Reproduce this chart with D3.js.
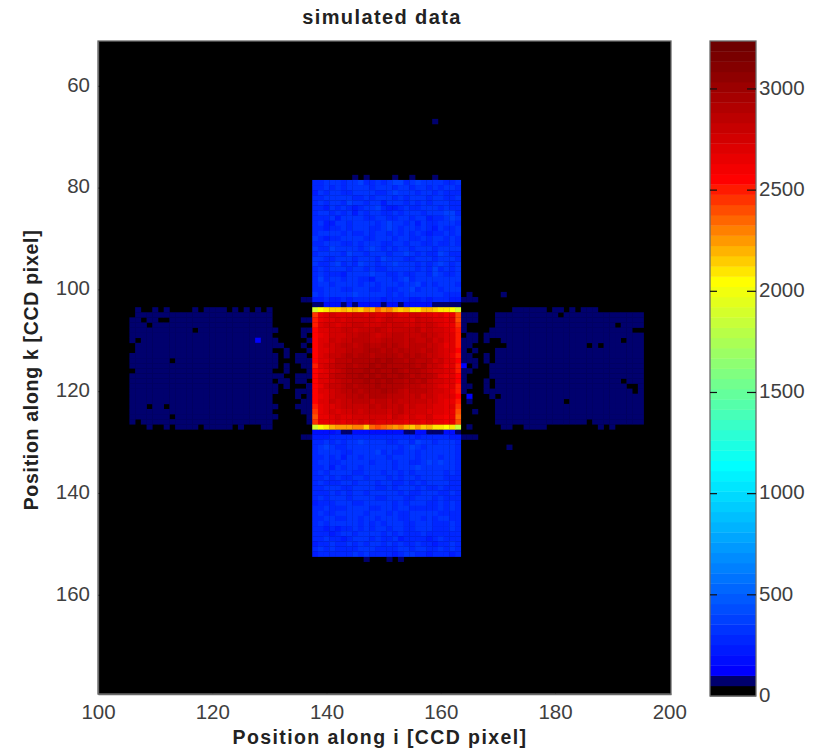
<!DOCTYPE html>
<html><head><meta charset="utf-8">
<script src="https://cdn.jsdelivr.net/npm/d3@7"></script>
<style>
html,body{margin:0;background:#fff}
text{font-family:"Liberation Sans",Arial,sans-serif}
</style></head><body><svg id="c" width="823" height="752"></svg>
<script>
// ---- text
const titleText = "simulated data";
const xLabel = "Position along i [CCD pixel]";
const yLabel = "Position along k [CCD pixel]";
const xTicks = [100,120,140,160,180,200];
const yTicks = [60,80,100,120,140,160];
const cTicks = [0,500,1000,1500,2000,2500,3000];
const colorMax = 3237;
const bandCount = 64;
// colormap stops: band index and colour
const stopBands = [0,1,2,22,31,40,50,63];
const stopColors = ["#000000","#00006e","#0000ff","#00ffff","#80ff80","#ffff00","#ff0000","#6e0000"];

// ---- data, one character per pixel: colour band index, '.' = no signal
const topFirstK = 79, topFirstI = 138;
const topBlockRows = [
"55666566755656775676666556",
"55656566665666566566565665",
"46566556666556766656656555",
"55666665565666565666566556",
"56566576656646665656566655",
"55465654566754456556665655",
"56656564656655656665666775",
"55564666655665566566455676",
"56446656666567665646556665",
"55455656665567656656546556",
"56666565565665656565455656",
"65455666655666566556566565",
"55666556566655665665565565",
"65576666567656566566656666",
"56666576656665667656557655",
"66556665666576665566656665",
"65567565766566766656567656",
"56566656656556666656575656",
"56555466667665565566576556",
"57566566554666567566666666",
"56656666566566656675656665",
"55666556665565566756665666",
"65666667666665656666666555",
"44544545555545555445455544",
"11333131333313313333311111"
];
const bottomFirstK = 128, bottomFirstI = 138;
const bottomBlockRows = [
"33334113333333331133111331",
"44455555555555555545555544",
"55656566766665566576656665",
"56765566666666656765666665",
"56666556666756556656666665",
"55656466566665666656665665",
"56655666665666566556767665",
"55646566566666566676666665",
"56566665566656656566666565",
"55656556656665656656666555",
"56555665666566556565666655",
"55666556666556566656556555",
"55565656656666656556665565",
"56566656666556665566656555",
"45556665566666565666556565",
"55655566665566566555556565",
"56556666656665655666665555",
"55665566566566655665656655",
"56566666565656665566655565",
"55454556565665665566655565",
"55545665666656565556555555",
"55655456665655645555456555",
"45565565656656565565545565",
"56565555666555566566556565",
"45555556565555456655455545"
];
// central bright rectangle, k 104..127, i 138..163
const centreFirstK = 104, centreFirstI = 138;
const centreTopEdge = [1900,2050,2100,2150,2130,2200,2150,2180,2130,2250,2200,2330,2250,2300,2200,2150,2180,2080,2100,2200,2180,2150,2100,2100,2050,1880];
const centreBottomEdge = [1900,2060,2120,2180,2250,2240,2230,2300,2280,2150,2350,2380,2340,2300,2260,2300,2220,2150,2230,2130,2180,2100,2120,2060,2080,1850];
const centreLeftEdge = [2430,2480,2500,2540,2560,2540,2560,2530,2560,2540,2520,2560,2530,2560,2540,2530,2560,2540,2500,2470,2400,2440];
const centreRightEdge = [2380,2420,2460,2500,2510,2480,2510,2530,2520,2540,2520,2510,2530,2540,2520,2500,2530,2500,2470,2380,2360,2400];
// inner pixels: counts = 2500 + 50 * digit
const centreInnerRows = [
"345444554544554455443423",
"344545555545655546554434",
"455455665556566556565433",
"445566566676566667565543",
"345556677656677666766544",
"446566777667777676675644",
"455677678778787677766534",
"445667778887878777676544",
"456678788788887878766543",
"445777888898988787775644",
"456778788989888887866534",
"345678889898898788765544",
"446778898989889878776434",
"445677889898988787865544",
"356678788898888777665434",
"445677878889887677765543",
"345667787888777667565444",
"446566777677676666655433",
"344566666767667565554434",
"345455656666567555544433",
"334544555555465454453323",
"333434454544444344343323"
];
// faint side blocks, k 104..127
const leftFirstK = 104, leftFirstI = 106;
const leftBlockRows = [
".1..1.1....1.1111.1.1.1.1",
".111111111111111111111111",
"11.11..111111111111111111",
"111.111111111111111111111",
"11111111111.11111111111111",
"1111111111111111111111111",
"1.11111111111111111111211 1".replace(" ",""),
".11111111111111111111111111",
".111111111111111111111111..1",
"11111111111111111111111111",
"1111111.111111111111111111",
"11111111111111111111111111.1",
".111111111111111111111111.",
"111111111111111111111111111",
"1111111111111111111111111..1",
"11111111111111111111111111.1",
"11111111111111111111111111",
"1111111111111111111111111",
"1111111111111111111111111",
"111.11.1111111111111111111",
"1111111111111111111111111",
"1111111.111111111111111111",
"1.11111111111111111111111",
"...1..1.1111.11111.1...11"
];
const rightFirstK = 104, rightFirstI = 168;
const rightBlockRows = [
".....111111.11.1.111",
"..11111111111.11111111111111",
"..11111111111111111111111111",
"..111111111111111111111.1111",
".1111111111111111111111111.",
"1111111111111111111111111111",
"1..111111111111111111111.111",
"....11111111111111.1.1111111",
"..11111111111111111111111111",
"1.11111111111111111111111111",
"1.11111111111111111111111111",
".111111111111111111111111111",
".111111111111111111111111111",
".111111111111111111111111111",
"1.1111111111111111111111.111",
"1.11111111111111111111111..1",
"11111111111111111111111111.1",
".1.1111111111111111111111111",
"..111111111111.1111111111111",
"..11111111111111111111111111",
"..11111111111111111111111111",
"..11111111111111111111111111",
"..1111111111111111.111111111",
"...11..1111.........1.1"
];
// isolated pixels: i, k, band
const strayI    = [159,145,147,152,155,159,147,151,153,171,172,165,165,
                   136,137,165,164,166,136,137,164,165,166,
                   136,137,136,137,135,136,133,135,136,137,136,137,133,137,135,136,137,132,133,135,136,137,133,137,135,136,137,135,137,136,137,136,137,135,136,137,137,137,
                   164,165,166,164,165,166,164,165,166,164,165,164,165,164,166,164,165,164,165,166,164,166,164,165,164,164,164,165,165,
                   136,137,165,166,164,136,137,164,165,166];
const strayK    = [67,78,78,78,78,78,153,153,153,101,131,101,127,
                   102,102,102,102,102,129,129,129,129,129,
                   106,106,108,108,113,113,113,114,114,114,115,115,116,116,117,117,117,118,118,118,118,119,119,119,120,120,120,121,121,122,122,123,123,123,124,124,125,126,
                   105,105,105,106,106,106,107,109,109,110,110,111,111,112,112,113,113,114,114,114,115,115,116,116,117,118,119,119,121,
                   109,110,109,110,108,111,112,120,122,124];
const strayBand = [1,1,1,1,1,1,1,1,1,1,1,1,1,
                   1,1,1,1,1,1,1,1,1,1,
                   1,1,1,1,1,1,1,1,1,1,1,1,1,1,1,1,1,1,1,1,1,2,1,1,1,1,1,1,1,1,1,1,1,1,1,1,1,1,
                   1,1,1,1,1,1,1,1,1,1,1,1,1,1,1,1,1,1,1,1,2,1,1,1,1,1,1,1,2,
                   1,1,1,1,1,1,1,1,1,1];

// ---- assemble pixels
const bandWidth = colorMax / bandCount;
const bandValue = b => (b + 0.5) * bandWidth;
const pixels = [];
function addRows(rows, firstI, firstK){
  rows.forEach((row, r) => [...row].forEach((ch, c) => {
    if (ch !== ".") pixels.push({i:firstI+c, k:firstK+r, v:bandValue(+ch)});
  }));
}
addRows(leftBlockRows, leftFirstI, leftFirstK);
addRows(rightBlockRows, rightFirstI, rightFirstK);
strayI.forEach((i, n) => pixels.push({i, k:strayK[n], v:bandValue(strayBand[n])}));
addRows(topBlockRows, topFirstI, topFirstK);
addRows(bottomBlockRows, bottomFirstI, bottomFirstK);
centreTopEdge.forEach((v, c) => pixels.push({i:centreFirstI+c, k:centreFirstK, v}));
centreBottomEdge.forEach((v, c) => pixels.push({i:centreFirstI+c, k:centreFirstK+23, v}));
centreLeftEdge.forEach((v, r) => pixels.push({i:centreFirstI, k:centreFirstK+1+r, v}));
centreRightEdge.forEach((v, r) => pixels.push({i:centreFirstI+25, k:centreFirstK+1+r, v}));
centreInnerRows.forEach((row, r) => [...row].forEach((ch, c) =>
  pixels.push({i:centreFirstI+1+c, k:centreFirstK+1+r, v:2500+50*(+ch)})));

// ---- scales
const plot = {l:98, r:671, t:41, b:694};
const x = d3.scaleLinear().domain([100,200.3]).range([plot.l, plot.r]);
const y = d3.scaleLinear().domain([51.2,179.5]).range([plot.t, plot.b]);
const cY = d3.scaleLinear().domain([0,colorMax]).range([696,41]);
const ramp = d3.scaleLinear().domain(stopBands).range(stopColors).interpolate(d3.interpolateRgb);
const bandColor = b => b === 0 ? stopColors[0] : b === 1 ? stopColors[1] : ramp(b);
const color = v => bandColor(Math.min(bandCount-1, Math.floor(v / bandWidth)));

const svg = d3.select("#c");
const axisCol = "#6a6a6a", textCol = "#3f3f3f";

// image
const img = svg.append("g");
img.append("rect").attr("x",plot.l).attr("y",plot.t).attr("width",plot.r-plot.l).attr("height",plot.b-plot.t).attr("fill","#000");
img.selectAll(".px").data(pixels).join("rect").attr("class","px")
  .attr("x", d=>x(d.i-0.5)).attr("y", d=>y(d.k-0.5))
  .attr("width", x(1)-x(0)+0.3).attr("height", y(1)-y(0)+0.3)
  .attr("fill", d=>color(d.v));

function styleAxis(g){
  g.selectAll("path").attr("stroke",axisCol).attr("stroke-width",1.3);
  g.selectAll("line").attr("stroke","#000");
  g.selectAll("text").attr("fill",textCol).attr("font-size",20.5).style("font-family",'"Liberation Sans",Arial,sans-serif');
}
styleAxis(svg.append("g").attr("transform",`translate(0,${plot.b})`)
  .call(d3.axisBottom(x).tickValues(xTicks).tickSize(-7).tickSizeOuter(0).tickPadding(10).tickFormat(d3.format("d"))));
const yAxisG = svg.append("g").attr("transform",`translate(${plot.l},0)`)
  .call(d3.axisLeft(y).tickValues(yTicks).tickSize(-7).tickSizeOuter(0).tickPadding(8).tickFormat(d3.format("d")));
styleAxis(yAxisG);
yAxisG.selectAll("text").attr("dy","0.26em");
svg.append("rect").attr("x",plot.l).attr("y",plot.t).attr("width",plot.r-plot.l).attr("height",plot.b-plot.t)
  .attr("fill","none").attr("stroke",axisCol).attr("stroke-width",1.3);

// colour bar
const cb = {l:710, r:756};
const bands = d3.range(bandCount);
svg.append("g").selectAll("rect").data(bands).join("rect")
  .attr("x",cb.l).attr("width",cb.r-cb.l)
  .attr("y",b=>cY((b+1)*bandWidth)).attr("height",bandWidth*(696-41)/colorMax+0.4)
  .attr("fill",bandColor);
svg.append("rect").attr("x",cb.l).attr("y",41).attr("width",cb.r-cb.l).attr("height",655)
  .attr("fill","none").attr("stroke",axisCol).attr("stroke-width",1.3);
const cAxis = svg.append("g").attr("transform",`translate(${cb.r},0)`)
  .call(d3.axisRight(cY).tickValues(cTicks).tickSize(0).tickPadding(3).tickFormat(d3.format("d")));
cAxis.select("path").remove();
styleAxis(cAxis);
cAxis.selectAll("text").attr("dy","0.26em");
const cT = svg.append("g").selectAll("g").data(cTicks.slice(1)).join("g");
cT.append("line").attr("x1",cb.l).attr("x2",cb.l+7).attr("y1",d=>cY(d)).attr("y2",d=>cY(d)).attr("stroke","#111").attr("stroke-width",1.2);
cT.append("line").attr("x1",cb.r-9).attr("x2",cb.r).attr("y1",d=>cY(d)).attr("y2",d=>cY(d)).attr("stroke","#111").attr("stroke-width",1.2);

// titles
svg.append("text").attr("x",382).attr("y",24).attr("text-anchor","middle").attr("font-weight","bold").attr("font-size",20).attr("letter-spacing",1.4).attr("fill","#222").text(titleText);
svg.append("text").attr("x",380).attr("y",744).attr("text-anchor","middle").attr("font-weight","bold").attr("font-size",19.5).attr("letter-spacing",1.4).attr("fill","#222").text(xLabel);
svg.append("text").attr("transform","translate(38,370) rotate(-90)").attr("text-anchor","middle").attr("font-weight","bold").attr("font-size",19.5).attr("letter-spacing",0.7).attr("fill","#222").text(yLabel);
</script></body></html>
